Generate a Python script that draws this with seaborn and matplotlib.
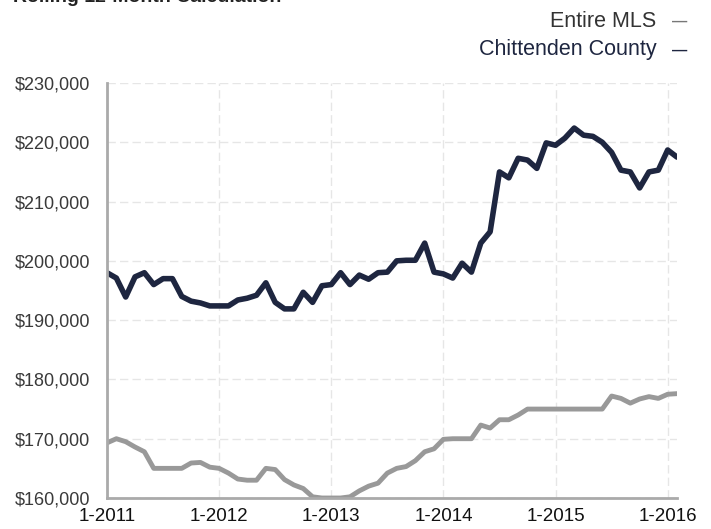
import pandas as pd
import matplotlib.pyplot as plt
import seaborn as sns

# Monthly rolling 12-month median sales price, Jan 2011 - Feb 2016
months = list(range(62))
year_ticks = [0, 12, 24, 36, 48, 60]
year_labels = ["1-2011", "1-2012", "1-2013", "1-2014", "1-2015", "1-2016"]
price_ticks = [160000, 170000, 180000, 190000, 200000, 210000, 220000, 230000]

chittenden = [
    198000, 197100, 193900, 197300, 198000, 196000, 197000, 197000, 194000, 193200,
    192900, 192400, 192400, 192400, 193400, 193700, 194200, 196300, 193000, 191900,
    191900, 194700, 193000, 195800, 196000, 198000, 196000, 197600, 196900, 198000,
    198100, 200000, 200100, 200100, 203000, 198100, 197800, 197100, 199600, 198100,
    203000, 204900, 215000, 214000, 217300, 217000, 215600, 219900, 219500, 220700,
    222400, 221200, 221000, 220000, 218300, 215300, 215000, 212300, 215000, 215300,
    218700, 217500,
]
entire_mls = [
    169300, 170000, 169500, 168600, 167800, 165000, 165000, 165000, 165000, 165900,
    166000, 165200, 165000, 164200, 163200, 163000, 163000, 165000, 164800, 163100,
    162200, 161600, 160200, 160000, 160000, 160000, 160200, 161200, 162000, 162500,
    164200, 165000, 165300, 166300, 167800, 168300, 169900, 170000, 170000, 170000,
    172300, 171800, 173200, 173200, 174000, 175000, 175000, 175000, 175000, 175000,
    175000, 175000, 175000, 175000, 177200, 176800, 176000, 176700, 177100, 176800,
    177500, 177600,
]

df = pd.DataFrame({
    "month": months * 2,
    "price": entire_mls + chittenden,
    "area": ["Entire MLS"] * 62 + ["Chittenden County"] * 62,
})

navy = "#1e2640"
gray = "#999999"

sns.set_style("white")
plt.rcParams["font.family"] = ["Liberation Sans", "DejaVu Sans"]

fig = plt.figure(figsize=(7.11, 5.29), dpi=100)
ax = fig.add_axes([0.1505, 0.0586, 0.8017, 0.7845])

sns.lineplot(data=df, x="month", y="price", hue="area",
             palette={"Entire MLS": gray, "Chittenden County": navy},
             linewidth=4, legend=False, ax=ax)
ax.lines[0].set_linewidth(3.5)

ax.set_xlim(0, 61)
ax.set_ylim(160000, 230000)
ax.set_xticks(year_ticks)
ax.set_xticklabels(year_labels, fontsize=13.5, color="#111111")
ax.set_yticks(price_ticks)
ax.set_yticklabels([f"${v:,}" for v in price_ticks], fontsize=13, color="#3a3a3a")
ax.set_xlabel("")
ax.set_ylabel("")

ax.grid(True, color="#e6e6e6", linestyle=(0, (6, 3)), linewidth=1)
for side in ["top", "right"]:
    ax.spines[side].set_visible(False)
for side in ["left", "bottom"]:
    ax.spines[side].set_color("#aaaaaa")
    ax.spines[side].set_linewidth(2)
ax.tick_params(axis="x", length=3, color="#aaaaaa", pad=4)
ax.tick_params(axis="y", length=0, pad=12)

# Title (partly cut off at the top in the original)
fig.text(0.018, 1.005, "Rolling 12-Month Calculation", fontsize=14,
         fontweight="bold", color="#222222", va="center", ha="left")

# Legend as right-aligned text with dashes
fig.text(0.923, 0.960, "Entire MLS", fontsize=15.5, color="#333333", ha="right", va="center")
fig.text(0.945, 0.958, "\u2014", fontsize=11, color="#777777", ha="left", va="center",
         fontweight="bold")
fig.text(0.923, 0.907, "Chittenden County", fontsize=15.5, color=navy, ha="right", va="center")
fig.text(0.945, 0.905, "\u2014", fontsize=11, color=navy, ha="left", va="center",
         fontweight="bold")

plt.savefig("out.png", dpi=100)
